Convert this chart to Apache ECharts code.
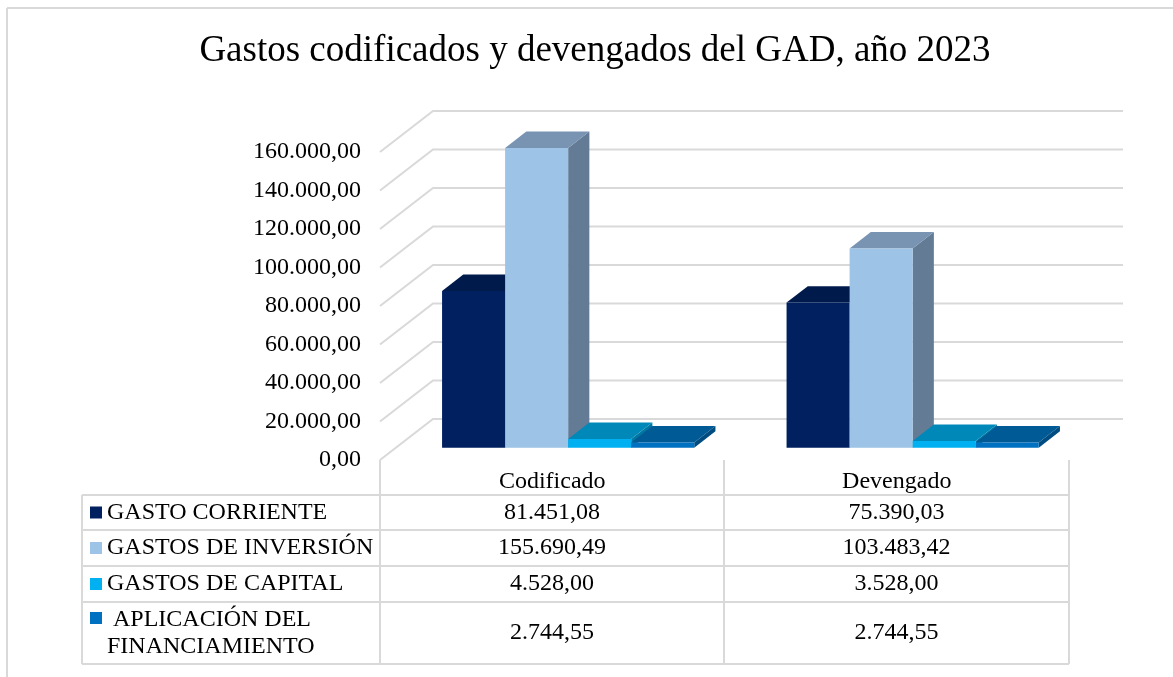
<!DOCTYPE html>
<html>
<head>
<meta charset="utf-8">
<title>Gastos codificados y devengados del GAD, año 2023</title>
<script src="https://cdn.jsdelivr.net/npm/echarts@6/dist/echarts.min.js"></script>
<style>
  html, body { margin: 0; padding: 0; background: #fff; }
  #chart { width: 1173px; height: 677px; }
</style>
</head>
<body>
<div id="chart"></div>
<script>
// datos del grafico
const categories = ['Codificado', 'Devengado'];
const seriesNames = ['GASTO CORRIENTE', 'GASTOS DE INVERSIÓN', 'GASTOS DE CAPITAL', ' APLICACIÓN DEL\nFINANCIAMIENTO'];
const gastoCorriente = [81451.08, 75390.03];
const gastosInversion = [155690.49, 103483.42];
const gastosCapital = [4528.0, 3528.0];
const aplicacionFinanciamiento = [2744.55, 2744.55];
const yTicks = [0, 20000, 40000, 60000, 80000, 100000, 120000, 140000, 160000];

const seriesValues = [gastoCorriente, gastosInversion, gastosCapital, aplicacionFinanciamiento];

// colores: frente, tapa, lateral
const faceColors = [
  ['#002060', '#001a4c', '#00163f'],
  ['#9dc3e6', '#7894b2', '#637b94'],
  ['#00b0f0', '#0088b9', '#0077a3'],
  ['#0070c0', '#005a95', '#004c80'],
];

const fontFamily = '"Liberation Serif", "DejaVu Serif", serif';
const gridColor = '#d9d9d9';
const DX = 53; // desplazamiento de profundidad (pared del fondo)
const DY = -41;
const barFront = 0.3; // posicion de la cara frontal en la profundidad
const barDepth = 0.4;
const barFrac = 0.183; // ancho de barra respecto a la categoria

// formato es-EC: 160.000,00
function fmt(v) {
  const parts = v.toFixed(2).split('.');
  return parts[0].replace(/\B(?=(\d{3})+(?!\d))/g, '.') + ',' + parts[1];
}

const chart = echarts.init(document.getElementById('chart'));

// grid lines (pared + diagonales)
const gridSeries = {
  type: 'custom',
  z: 1,
  silent: true,
  data: yTicks.map((v) => [0, v]),
  renderItem: function (params, api) {
    const cs = params.coordSys;
    const p = api.coord([0, api.value(1)]);
    const y = p[1];
    return {
      type: 'polyline',
      shape: {
        points: [
          [cs.x, y],
          [cs.x + DX, y + DY],
          [cs.x + cs.width + DX + 1, y + DY],
        ],
      },
      style: { stroke: gridColor, lineWidth: 2, fill: null },
    };
  },
};

// barras 3D simuladas
const barSeries = seriesValues.map((vals, sIdx) => ({
  type: 'custom',
  name: seriesNames[sIdx],
  z: 2,
  data: vals.map((v, i) => [i, v]),
  renderItem: function (params, api) {
    const base = api.coord([api.value(0), 0]);
    const top = api.coord([api.value(0), api.value(1)]);
    const bandW = api.size([1, 0])[0];
    const barW = bandW * barFrac;
    const x0 = base[0] + barFront * DX - 2 * barW + sIdx * barW;
    const x1 = x0 + barW;
    const yb = base[1] + barFront * DY;
    const yt = top[1] + barFront * DY;
    const bdx = barDepth * DX;
    const bdy = barDepth * DY;
    const c = faceColors[sIdx];
    return {
      type: 'group',
      children: [
        {
          type: 'polygon',
          shape: { points: [[x1, yt], [x1 + bdx, yt + bdy], [x1 + bdx, yb + bdy], [x1, yb]] },
          style: { fill: c[2] },
        },
        {
          type: 'polygon',
          shape: { points: [[x0, yt], [x1, yt], [x1 + bdx, yt + bdy], [x0 + bdx, yt + bdy]] },
          style: { fill: c[1] },
        },
        {
          type: 'rect',
          shape: { x: x0, y: yt, width: barW, height: yb - yt },
          style: { fill: c[0] },
        },
      ],
    };
  },
}));

// tabla de datos
const tableLeft = 82;
const colX = [380, 724, 1069];
const rowY = [495, 530, 566, 602, 664];
const tableGraphics = [];
const lineStyle = { stroke: gridColor, lineWidth: 2 };

colX.forEach((x) => {
  tableGraphics.push({ type: 'line', shape: { x1: x, y1: 460, x2: x, y2: rowY[4] }, style: lineStyle });
});
tableGraphics.push({ type: 'line', shape: { x1: tableLeft, y1: rowY[0], x2: tableLeft, y2: rowY[4] }, style: lineStyle });
rowY.forEach((y) => {
  tableGraphics.push({ type: 'line', shape: { x1: tableLeft, y1: y, x2: colX[2], y2: y }, style: lineStyle });
});

seriesNames.forEach((name, r) => {
  const y0 = rowY[r];
  const y1 = rowY[r + 1];
  const multi = name.indexOf('\n') >= 0;
  const cy = (y0 + y1) / 2;
  const swY = multi ? y0 + 16 : cy;
  tableGraphics.push({
    type: 'rect',
    shape: { x: 90, y: swY - 6, width: 12, height: 12 },
    style: { fill: faceColors[r][0] },
  });
  tableGraphics.push({
    type: 'text',
    x: 107,
    y: cy,
    style: {
      text: name,
      font: '24px ' + fontFamily,
      fill: '#000',
      verticalAlign: 'middle',
      lineHeight: 27,
    },
  });
  seriesValues[r].forEach((v, c) => {
    tableGraphics.push({
      type: 'text',
      x: (colX[c] + colX[c + 1]) / 2,
      y: cy,
      style: {
        text: fmt(v),
        font: '24px ' + fontFamily,
        fill: '#000',
        align: 'center',
        verticalAlign: 'middle',
      },
    });
  });
});

// marco y titulo
tableGraphics.push({ type: 'line', shape: { x1: 7, y1: 8, x2: 1173, y2: 8 }, style: lineStyle });
tableGraphics.push({ type: 'line', shape: { x1: 7, y1: 8, x2: 7, y2: 677 }, style: lineStyle });
tableGraphics.push({
  type: 'text',
  x: 595,
  y: 51,
  style: {
    text: 'Gastos codificados y devengados del GAD, año 2023',
    font: '37px ' + fontFamily,
    fill: '#000',
    align: 'center',
    verticalAlign: 'middle',
  },
});

chart.setOption({
  animation: false,
  backgroundColor: '#fff',
  grid: {
    left: 380,
    right: 104,
    top: 152,
    bottom: 217,
    containLabel: false,
  },
  xAxis: {
    type: 'category',
    data: categories,
    axisLine: { show: false },
    axisTick: { show: false },
    splitLine: { show: false },
    axisLabel: {
      margin: 10,
      color: '#000',
      fontFamily: fontFamily,
      fontSize: 24,
    },
  },
  yAxis: {
    type: 'value',
    min: 0,
    max: 160000,
    interval: 20000,
    axisLine: { show: false },
    axisTick: { show: false },
    splitLine: { show: false },
    axisLabel: {
      margin: 19,
      color: '#000',
      fontFamily: fontFamily,
      fontSize: 24,
      formatter: fmt,
    },
  },
  graphic: tableGraphics,
  series: [gridSeries].concat(barSeries),
});

window.addEventListener('resize', () => chart.resize());
</script>
</body>
</html>
